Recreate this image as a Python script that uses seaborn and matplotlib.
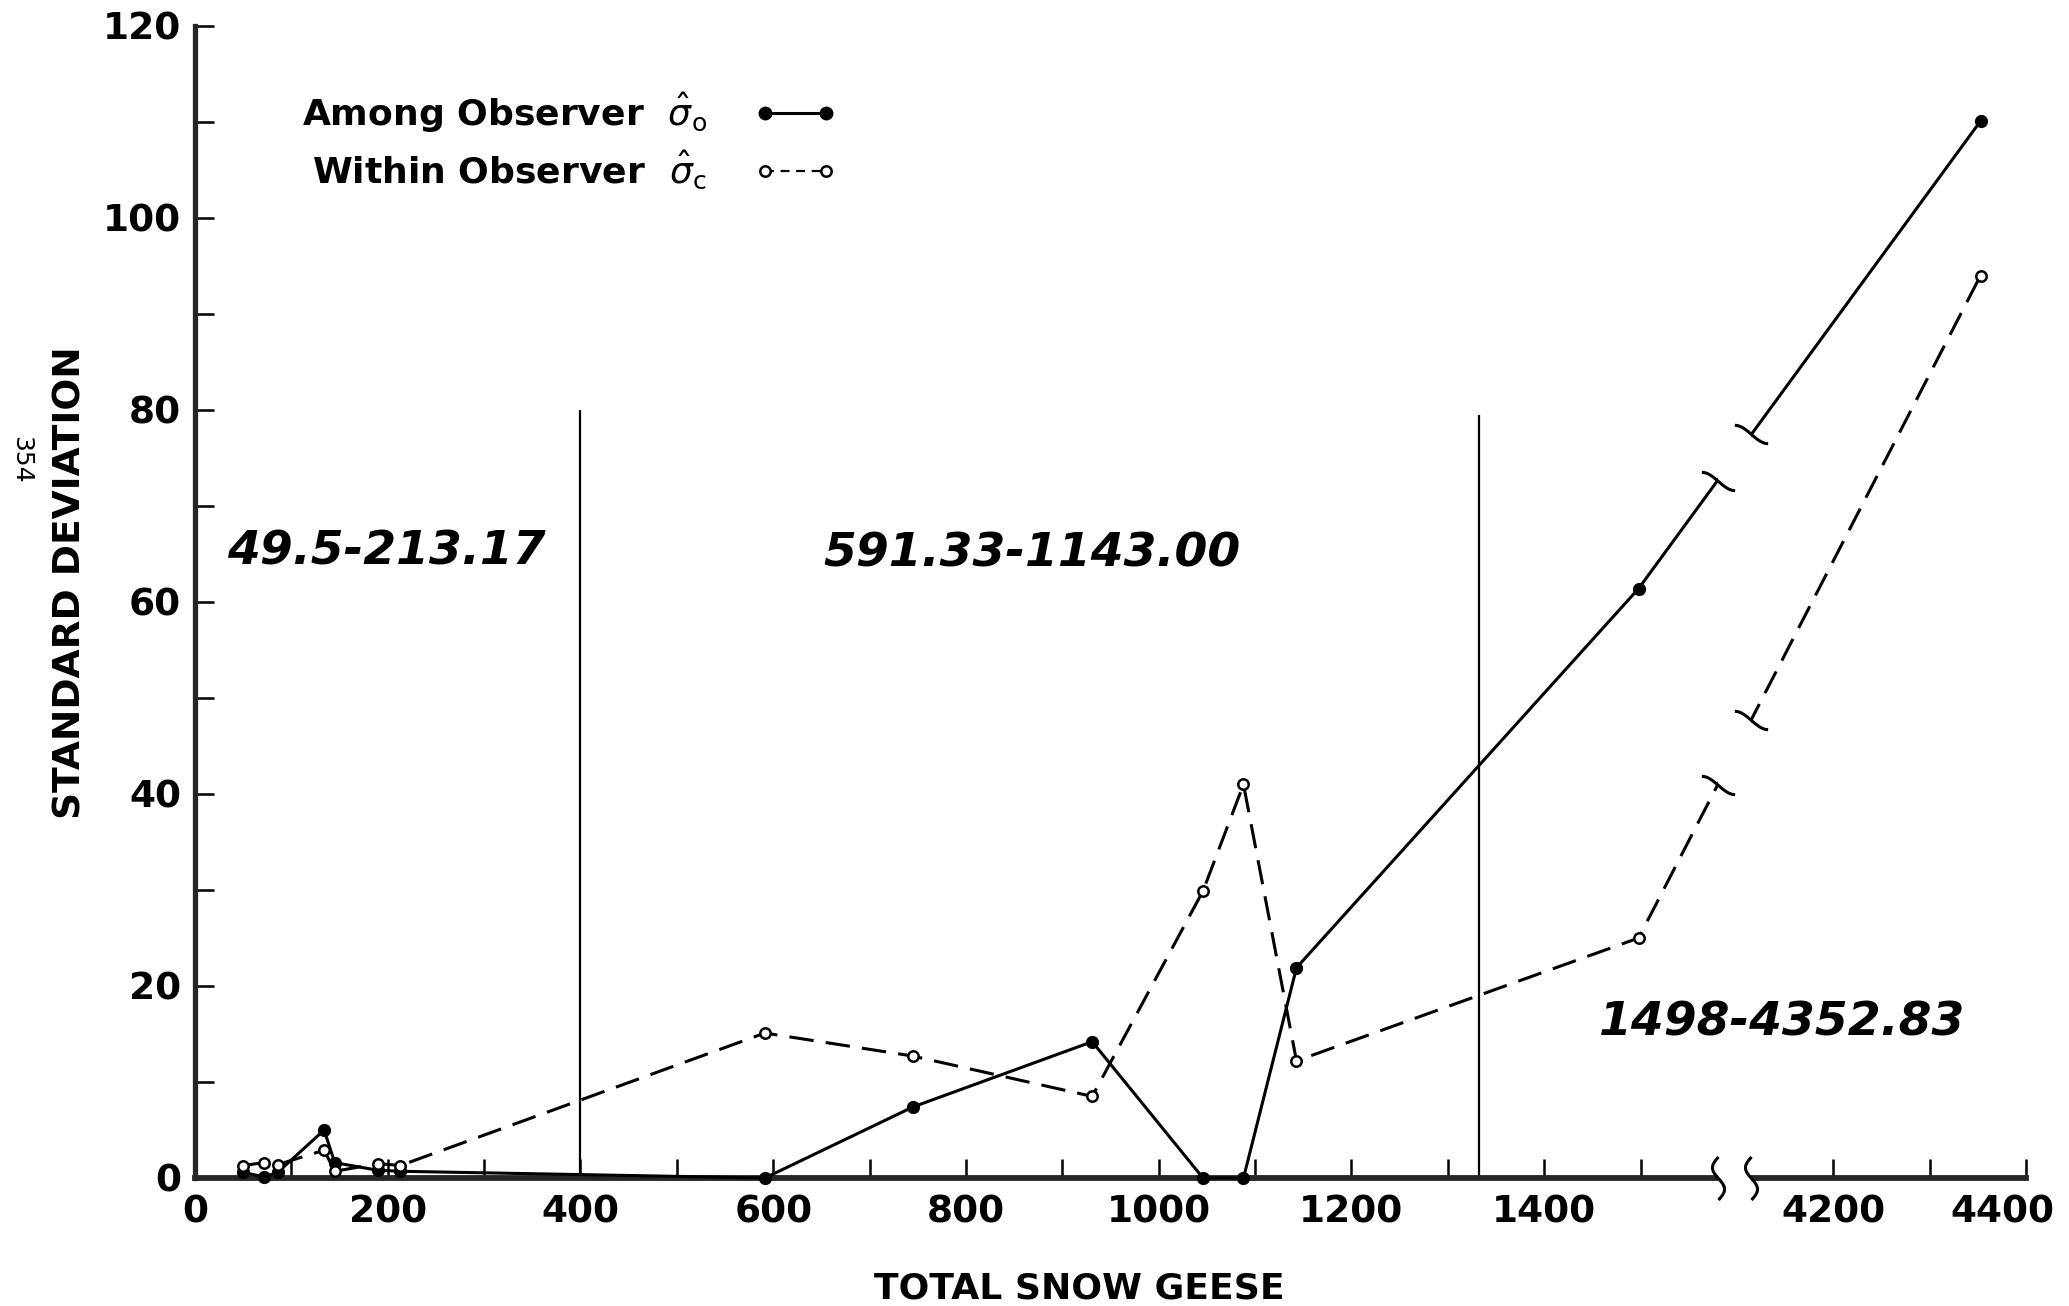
import numpy as np
import matplotlib
matplotlib.use("Agg")
import matplotlib.pyplot as plt
import matplotlib.transforms as mtransforms
from matplotlib.path import Path
from matplotlib.lines import Line2D
import seaborn as sns

# total snow geese per count and the two standard deviations
geese = [49.5, 72, 86, 134, 145, 190, 213.17,
         591.33, 745, 931, 1046, 1088, 1143.00,
         1498, 4352.83]
among = [0.6, 0.1, 0.6, 5.0, 1.6, 0.8, 0.7,
         0.0, 7.4, 14.2, 0.0, 0.0, 21.9,
         61.4, 110.1]
within = [1.3, 1.6, 1.4, 2.9, 0.7, 1.5, 1.3,
          15.1, 12.7, 8.5, 29.9, 41.0, 12.2,
          25.0, 94.0]

group_edges = [400, 1332]
group_edge_tops = [80, 79.5]
group_names = ["49.5-213.17", "591.33-1143.00", "1498-4352.83"]

x_major = [0, 200, 400, 600, 800, 1000, 1200, 1400, 4200, 4400]
x_minor = [100, 300, 500, 700, 900, 1100, 1300, 1500, 4300]
y_major = [0, 20, 40, 60, 80, 100, 120]
y_minor = [10, 30, 50, 70, 90, 110]

# broken x axis: 1600..4100 squeezed out
BREAK_LO, BREAK_HI = 1600, 4100
GAP = [1580, 4115]


def squeeze(x):
    x = np.asarray(x, dtype=float)
    return np.where(x <= BREAK_LO, x,
                    np.where(x >= BREAK_HI, x - (BREAK_HI - BREAK_LO), BREAK_LO))


def unsqueeze(x):
    x = np.asarray(x, dtype=float)
    return np.where(x <= BREAK_LO, x, x + (BREAK_HI - BREAK_LO))


sns.set_style("ticks")
plt.rcParams["font.family"] = ["DejaVu Sans"]
plt.rcParams["mathtext.fontset"] = "dejavusans"
plt.rcParams["text.color"] = "black"
plt.rcParams["axes.labelcolor"] = "black"
plt.rcParams["xtick.color"] = "black"
plt.rcParams["ytick.color"] = "black"

fig = plt.figure(figsize=(20.69, 13.06), dpi=100)
ax = fig.add_axes([195 / 2069, 128 / 1306, 1831 / 2069, 1152 / 1306])
ax.set_xscale("function", functions=(squeeze, unsqueeze))

sns.lineplot(x=geese, y=among, ax=ax, color="black", lw=2.2, marker="o",
             ms=8.5, mfc="black", mec="black", mew=1, clip_on=False,
             zorder=3, errorbar=None, legend=False, sort=False)
sns.lineplot(x=geese, y=within, ax=ax, color="black", lw=2.2,
             linestyle=(0, (8, 4)), marker="o", ms=7.5, mfc="white",
             mec="black", mew=1.8, clip_on=False, zorder=3,
             errorbar=None, legend=False, sort=False)

ax.vlines(group_edges, 0, group_edge_tops, colors="black", lw=1.6, zorder=2)

# the break: white gap plus squiggles on the axis and on both lines
ax.axvspan(GAP[0], GAP[1], ymin=-0.015, ymax=1, color="white", lw=0,
           zorder=4, clip_on=False)
t = np.linspace(-1, 1, 50)
v_squig = Path(np.column_stack([0.28 * np.sin(np.pi * t), -t]))
h_squig = Path(np.column_stack([t, -0.55 * np.sin(np.pi * t / 2)]))
ax.plot(GAP, [0, 0], ls="none", marker=v_squig, ms=31, mfc="none",
        mec="black", mew=2.2, clip_on=False, zorder=5)
for series in (among, within):
    y_gap = np.interp(squeeze(GAP), squeeze(geese[-2:]), series[-2:])
    ax.plot(GAP, y_gap, ls="none", marker=h_squig, ms=24, mfc="none",
            mec="black", mew=2.2, clip_on=False, zorder=5)

ax.set_xlim(0, 4400)
ax.set_ylim(0, 120)
for s in ["top", "right"]:
    ax.spines[s].set_visible(False)
ax.spines["left"].set_linewidth(3.8)
ax.spines["bottom"].set_linewidth(4.2)

ax.set_xticks(x_major)
ax.set_xticklabels([str(v) for v in x_major])
ax.set_xticks(x_minor, minor=True)
ax.set_yticks(y_major)
ax.set_yticklabels([str(v) for v in y_major])
ax.set_yticks(y_minor, minor=True)
ax.tick_params(which="both", direction="in", length=14, width=1.8, color="black")
ax.tick_params(axis="x", pad=12, labelsize=27)
ax.tick_params(axis="y", pad=10, labelsize=27)
for lab in ax.get_xticklabels() + ax.get_yticklabels():
    lab.set_fontweight("bold")
# last label sits a little left of its tick, as in the print
last = ax.get_xticklabels()[-1]
last.set_transform(last.get_transform()
                   + mtransforms.ScaledTranslation(-0.24, 0, fig.dpi_scale_trans))

ax.set_xlabel("TOTAL SNOW GEESE", fontsize=26, fontweight="bold")
ax.xaxis.label.set_va("center")
ax.xaxis.set_label_coords(0.483, -0.0955)
ax.set_ylabel("STANDARD DEVIATION", fontsize=27, fontweight="bold")
ax.yaxis.set_label_coords(-0.058, 0.5165)

name_pos = [(0.1043, 0.5434), (0.457, 0.5417), (0.867, 0.1345)]
for (px, py), name in zip(name_pos, group_names):
    ax.text(px, py, name, transform=ax.transAxes, ha="center", va="center",
            fontsize=34, fontweight="bold", fontstyle="italic", zorder=6)

handles = [
    Line2D([], [], color="black", lw=2.2, marker="o", ms=9,
           mfc="black", mec="black"),
    Line2D([], [], color="black", lw=1.6, ls=(0, (4, 3)), marker="o",
           ms=7.5, mfc="white", mec="black", mew=1.8),
]
labels = [r"Among Observer  $\hat{\sigma}_{\mathrm{o}}$",
          r"Within Observer  $\hat{\sigma}_{\mathrm{c}}$"]
ax.legend(handles, labels, loc="upper left", bbox_to_anchor=(0.0584, 0.944),
          frameon=False, markerfirst=False, handlelength=2.3,
          handletextpad=1.3, labelspacing=0.4, borderpad=0,
          borderaxespad=0, numpoints=2, prop={"size": 26, "weight": "bold"})

fig.text(21 / 2069, 1 - 460 / 1306, "354", rotation=-90, fontsize=18,
         ha="center", va="center")

fig.savefig("out.png", dpi=100)
